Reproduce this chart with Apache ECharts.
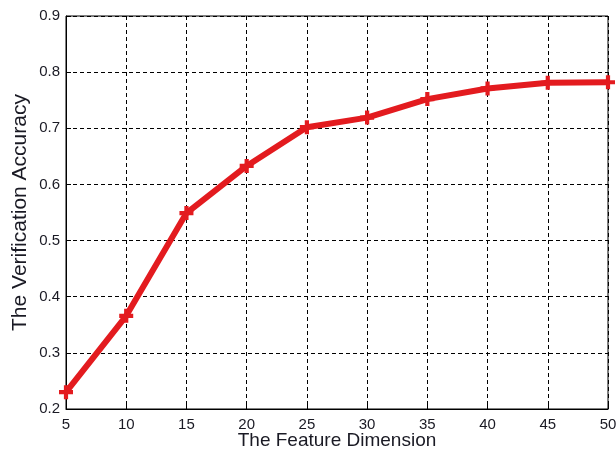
<!DOCTYPE html>
<html>
<head>
<meta charset="utf-8">
<script src="https://cdn.jsdelivr.net/npm/echarts@6/dist/echarts.min.js"></script>
<style>
  html, body { margin: 0; padding: 0; background: #fff; }
  #chart { width: 616px; height: 455px; }
</style>
</head>
<body>
<div id="chart"></div>
<script>
// Feature dimension vs. verification accuracy
const dimensions = [5, 10, 15, 20, 25, 30, 35, 40, 45, 50];
const accuracy = [0.230, 0.366, 0.549, 0.633, 0.702, 0.719, 0.752, 0.771, 0.781, 0.782];
const xName = 'The Feature Dimension';
const yName = 'The Verification Accuracy';

const plusSymbol = 'path://M3.5,0 H6.5 V3.5 H10 V6.5 H6.5 V10 H3.5 V6.5 H0 V3.5 H3.5 Z';
const fontFamily = 'Liberation Sans, Arial, sans-serif';
const textColor = '#1a1a24';

const chart = echarts.init(document.getElementById('chart'), null, { renderer: 'canvas' });
chart.setOption({
  backgroundColor: '#fff',
  animation: false,
  grid: {
    left: 66, right: 8, top: 16, bottom: 46,
    containLabel: false,
    outerBoundsMode: 'none',
    show: true, borderColor: '#000', borderWidth: 1, backgroundColor: 'transparent'
  },
  xAxis: {
    type: 'value',
    min: 5, max: 50, interval: 5,
    name: xName,
    nameLocation: 'middle',
    nameGap: 22,
    nameMoveOverlap: false,
    nameTextStyle: { fontFamily, fontSize: 19, color: textColor },
    axisLine: { show: true, lineStyle: { color: '#000', width: 1 } },
    axisTick: { show: true, inside: true, length: 5, lineStyle: { color: '#000' } },
    axisLabel: { fontFamily, fontSize: 15, color: textColor, margin: 8 },
    splitLine: { show: true, lineStyle: { color: '#000', type: [4, 3], width: 1 } }
  },
  yAxis: {
    type: 'value',
    min: 0.2, max: 0.9, interval: 0.1,
    name: yName,
    nameLocation: 'middle',
    nameGap: 35,
    nameMoveOverlap: false,
    nameTextStyle: { fontFamily, fontSize: 21, color: textColor },
    axisLine: { show: true, lineStyle: { color: '#000', width: 1 } },
    axisTick: { show: true, inside: true, length: 5, lineStyle: { color: '#000' } },
    axisLabel: {
      fontFamily, fontSize: 15, color: textColor, margin: 6,
      formatter: v => v.toFixed(1)
    },
    splitLine: { show: true, lineStyle: { color: '#000', type: [4, 3], width: 1 } }
  },
  series: [{
    type: 'line',
    data: dimensions.map((d, i) => [d, accuracy[i]]),
    lineStyle: { color: '#e31b1f', width: 6 },
    itemStyle: { color: '#e31b1f' },
    symbol: plusSymbol,
    symbolSize: 14,
    showSymbol: true,
    clip: false
  }]
});
</script>
</body>
</html>
